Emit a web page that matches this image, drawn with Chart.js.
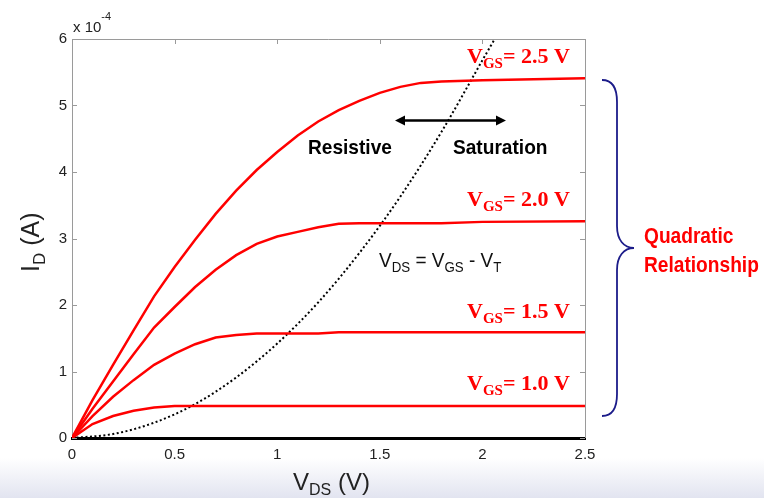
<!DOCTYPE html>
<html>
<head>
<meta charset="utf-8">
<script src="https://cdn.jsdelivr.net/npm/chart.js@4/dist/chart.umd.min.js"></script>
<style>
html, body { margin: 0; padding: 0; }
body {
    width: 764px; height: 498px; overflow: hidden;
    background: linear-gradient(to bottom, #ffffff 0px, #ffffff 458px, #e2e4f0 498px);
}
canvas { display: block; }
</style>
</head>
<body>
<canvas id="chart" width="764" height="498"></canvas>
<script>
// Drain current ID in units of 1e-4 A, sampled at the VDS values below
const vds = [0, 0.1, 0.2, 0.3, 0.4, 0.5, 0.6, 0.7, 0.8, 0.9, 1.0, 1.1, 1.2, 1.3, 1.4, 1.5, 1.6, 1.7, 1.8, 2.0, 2.5];
const idVgs25 = [0, 0.57, 1.10, 1.62, 2.13, 2.57, 2.98, 3.37, 3.72, 4.03, 4.30, 4.55, 4.76, 4.93, 5.07, 5.19, 5.28, 5.34, 5.36, 5.38, 5.41];
const idVgs20 = [0, 0.44, 0.85, 1.26, 1.66, 1.97, 2.27, 2.53, 2.75, 2.92, 3.03, 3.10, 3.17, 3.22, 3.23, 3.23, 3.23, 3.23, 3.23, 3.25, 3.26];
const idVgs15 = [0, 0.33, 0.62, 0.87, 1.10, 1.27, 1.41, 1.51, 1.55, 1.57, 1.57, 1.57, 1.57, 1.59, 1.59, 1.59, 1.59, 1.59, 1.59, 1.59, 1.59];
const idVgs10 = [0, 0.21, 0.33, 0.41, 0.46, 0.48, 0.48, 0.48, 0.48, 0.48, 0.48, 0.48, 0.48, 0.48, 0.48, 0.48, 0.48, 0.48, 0.48, 0.48, 0.48];

// Boundary VDS = VGS - VT (dotted)
const edgeVds = [0, 0.2, 0.4, 0.6, 0.8, 1.0, 1.2, 1.4, 1.6, 1.8, 2.0, 2.06];
const edgeId = [0, 0.06, 0.23, 0.51, 0.91, 1.42, 2.04, 2.78, 3.63, 4.60, 5.68, 6.0];

const xTicks = [0, 0.5, 1, 1.5, 2, 2.5];
const yTicks = [0, 1, 2, 3, 4, 5, 6];

const curveLabels = ['1.0', '1.5', '2.0', '2.5'];

function toPoints(xs, ys) {
    return xs.map((x, i) => ({ x: x, y: ys[i] }));
}

function redCurve(label, ys) {
    return {
        label: label,
        data: toPoints(vds, ys),
        borderColor: '#ff0000',
        borderWidth: 2.5,
        pointRadius: 0,
        tension: 0,
        showLine: true
    };
}

// Draw a run of text pieces (for subscripts / superscripts)
function drawRun(ctx, x, y, parts, color, scaleX) {
    ctx.save();
    ctx.translate(x, y);
    ctx.scale(scaleX || 1, 1);
    ctx.fillStyle = color;
    ctx.textBaseline = 'alphabetic';
    ctx.textAlign = 'left';
    let cx = 0;
    parts.forEach(p => {
        ctx.font = p.font;
        ctx.fillText(p.text, cx, p.dy || 0);
        cx += ctx.measureText(p.text).width;
    });
    ctx.restore();
}

const decorPlugin = {
    id: 'decor',
    afterDraw(chart) {
        const ctx = chart.ctx;
        const area = chart.chartArea;
        const xs = chart.scales.x;
        const ys = chart.scales.y;
        const sans = '"Liberation Sans", Arial, sans-serif';
        const serif = '"Liberation Serif", "Times New Roman", serif';

        // frame top / right and inward ticks
        ctx.save();
        ctx.strokeStyle = '#9a9a9a';
        ctx.lineWidth = 1;
        ctx.beginPath();
        ctx.moveTo(area.left, area.top + 0.5);
        ctx.lineTo(area.right + 0.5, area.top + 0.5);
        ctx.lineTo(area.right + 0.5, area.bottom);
        yTicks.forEach(v => {
            const py = Math.round(ys.getPixelForValue(v)) + 0.5;
            ctx.moveTo(area.left, py);
            ctx.lineTo(area.left + 5, py);
            ctx.moveTo(area.right, py);
            ctx.lineTo(area.right - 5, py);
        });
        xTicks.forEach(v => {
            const px = Math.round(xs.getPixelForValue(v)) + 0.5;
            ctx.moveTo(px, area.top);
            ctx.lineTo(px, area.top + 5);
        });
        ctx.stroke();
        ctx.restore();

        // exponent
        drawRun(ctx, 73, 32, [
            { text: 'x 10', font: '15px ' + sans },
            { text: '-4', font: '11px ' + sans, dy: -12 }
        ], '#222');

        // axis titles
        drawRun(ctx, 293, 490, [
            { text: 'V', font: '24px ' + sans },
            { text: 'DS', font: '16px ' + sans, dy: 5 },
            { text: ' (V)', font: '24px ' + sans }
        ], '#222');
        ctx.save();
        ctx.translate(39, 272);
        ctx.rotate(-Math.PI / 2);
        drawRun(ctx, 0, 0, [
            { text: 'I', font: '25px ' + sans },
            { text: 'D', font: '17px ' + sans, dy: 6 },
            { text: ' (A)', font: '25px ' + sans }
        ], '#222');
        ctx.restore();

        // VGS labels above each curve
        const labelBase = [390, 318, 206, 63];
        curveLabels.forEach((t, i) => {
            drawRun(ctx, 467, labelBase[i], [
                { text: 'V', font: 'bold 22px ' + serif },
                { text: 'GS', font: 'bold 15px ' + serif, dy: 5 },
                { text: '= ' + t + ' V', font: 'bold 22px ' + serif }
            ], '#ff0000');
        });

        // region labels + arrow
        drawRun(ctx, 308, 154, [{ text: 'Resistive', font: 'bold 21px ' + sans }], '#000', 0.91);
        drawRun(ctx, 453, 154, [{ text: 'Saturation', font: 'bold 21px ' + sans }], '#000', 0.91);
        ctx.save();
        ctx.strokeStyle = '#000';
        ctx.fillStyle = '#000';
        ctx.lineWidth = 2.5;
        ctx.beginPath();
        ctx.moveTo(402, 120.5);
        ctx.lineTo(499, 120.5);
        ctx.stroke();
        ctx.beginPath();
        ctx.moveTo(395, 120.5);
        ctx.lineTo(405, 115.5);
        ctx.lineTo(405, 125.5);
        ctx.closePath();
        ctx.moveTo(506, 120.5);
        ctx.lineTo(496, 115.5);
        ctx.lineTo(496, 125.5);
        ctx.closePath();
        ctx.fill();
        ctx.restore();

        // boundary equation
        drawRun(ctx, 379, 267, [
            { text: 'V', font: '20px ' + sans },
            { text: 'DS', font: '14px ' + sans, dy: 5 },
            { text: ' = V', font: '20px ' + sans },
            { text: 'GS', font: '14px ' + sans, dy: 5 },
            { text: ' - V', font: '20px ' + sans },
            { text: 'T', font: '14px ' + sans, dy: 5 }
        ], '#111', 0.95);

        // brace
        ctx.save();
        ctx.strokeStyle = '#1c1c8a';
        ctx.lineWidth = 1.8;
        ctx.beginPath();
        ctx.moveTo(602, 80);
        ctx.bezierCurveTo(612, 80, 617, 88, 617, 102);
        ctx.lineTo(617, 226);
        ctx.bezierCurveTo(617, 240, 624, 248, 634, 248);
        ctx.bezierCurveTo(624, 248, 617, 256, 617, 270);
        ctx.lineTo(617, 394);
        ctx.bezierCurveTo(617, 408, 612, 416, 602, 416);
        ctx.stroke();
        ctx.restore();

        drawRun(ctx, 644, 243, [{ text: 'Quadratic', font: 'bold 22px ' + sans }], '#ff0000', 0.87);
        drawRun(ctx, 644, 272, [{ text: 'Relationship', font: 'bold 22px ' + sans }], '#ff0000', 0.87);
    }
};

const tickFont = { family: '"Liberation Sans", Arial, sans-serif', size: 15 };

new Chart(document.getElementById('chart'), {
    type: 'scatter',
    data: {
        datasets: [
            redCurve('VGS = 2.5 V', idVgs25),
            redCurve('VGS = 2.0 V', idVgs20),
            redCurve('VGS = 1.5 V', idVgs15),
            redCurve('VGS = 1.0 V', idVgs10),
            {
                label: 'VDS = VGS - VT',
                data: toPoints(edgeVds, edgeId),
                borderColor: '#000',
                borderWidth: 2,
                borderDash: [2, 2.5],
                pointRadius: 0,
                showLine: true,
                cubicInterpolationMode: 'monotone'
            }
        ]
    },
    options: {
        responsive: false,
        animation: false,
        layout: { padding: { top: 39, right: 179, left: 0, bottom: 0 } },
        plugins: {
            legend: { display: false },
            tooltip: { enabled: false }
        },
        scales: {
            x: {
                type: 'linear',
                min: 0,
                max: 2.5,
                afterFit: s => { s.height = 60; },
                afterBuildTicks: s => { s.ticks = xTicks.map(v => ({ value: v })); },
                grid: { display: false, drawTicks: false },
                border: { display: true, color: '#000', width: 3 },
                ticks: { color: '#222', font: tickFont, padding: 8, maxRotation: 0, callback: v => String(v) }
            },
            y: {
                min: 0,
                max: 6,
                afterFit: s => { s.width = 72; },
                afterBuildTicks: s => { s.ticks = yTicks.map(v => ({ value: v })); },
                grid: { display: false, drawTicks: false },
                border: { display: true, color: '#9a9a9a', width: 1 },
                ticks: { color: '#222', font: tickFont, padding: 5, callback: v => String(v) }
            }
        }
    },
    plugins: [decorPlugin]
});
</script>
</body>
</html>
